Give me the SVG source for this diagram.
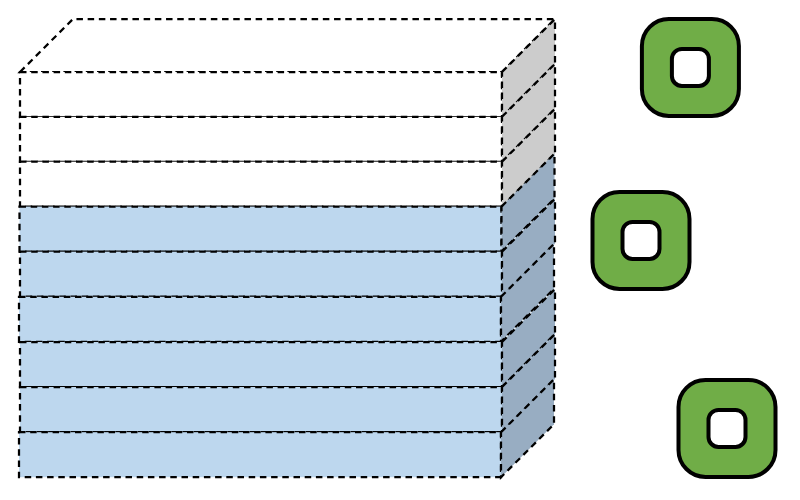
<svg xmlns="http://www.w3.org/2000/svg" width="800" height="500" viewBox="0 0 800 500">
<style>
.e{stroke:#000;stroke-width:2.25;stroke-dasharray:6.5 4.7;stroke-linejoin:miter}
.w{fill:#fff}.ws{fill:#ccc}.b{fill:#bdd7ee}.bs{fill:#98adc2}
.o{fill:#70ad47;stroke:#000;stroke-width:4}.i{fill:#fff;stroke:#000;stroke-width:4}
</style>
<defs>
<g id="white"><rect class="e w" x="0" y="0" width="482" height="45"/><path class="e ws" d="M482 0L535 -53V-8L482 45Z"/></g>
<g id="blue"><rect class="e b" x="0" y="0" width="482" height="45"/><path class="e bs" d="M482 0L535 -53V-8L482 45Z"/></g>
<g id="ring"><rect class="o" x="-48.5" y="-48.5" width="97" height="97" rx="27"/><rect class="i" x="-18.5" y="-18.5" width="37" height="37" rx="10"/></g>
</defs>
<g id="connectors"/>
<g id="layer-stack">
<path id="top-face" class="e w" d="M20 72L73 19H555L502 72Z"/>
<use id="layer-1" href="#white" x="20" y="72"/>
<use id="layer-2" href="#white" x="20" y="116.8"/>
<use id="layer-3" href="#white" x="20" y="161.7"/>
<use id="layer-4" href="#blue" x="19.5" y="206.6"/>
<use id="layer-5" href="#blue" x="20" y="251.7"/>
<use id="layer-6" href="#blue" x="19" y="296.8"/>
<use id="layer-7" href="#blue" x="20" y="342"/>
<use id="layer-8" href="#blue" x="20" y="387"/>
<use id="layer-9" href="#blue" x="19" y="432.2"/>
</g>
<g id="ring-1"><use href="#ring" x="690.4" y="67.4"/></g>
<g id="ring-2"><use href="#ring" x="641" y="240.4"/></g>
<g id="ring-3"><use href="#ring" x="727" y="428.4"/></g>
</svg>
